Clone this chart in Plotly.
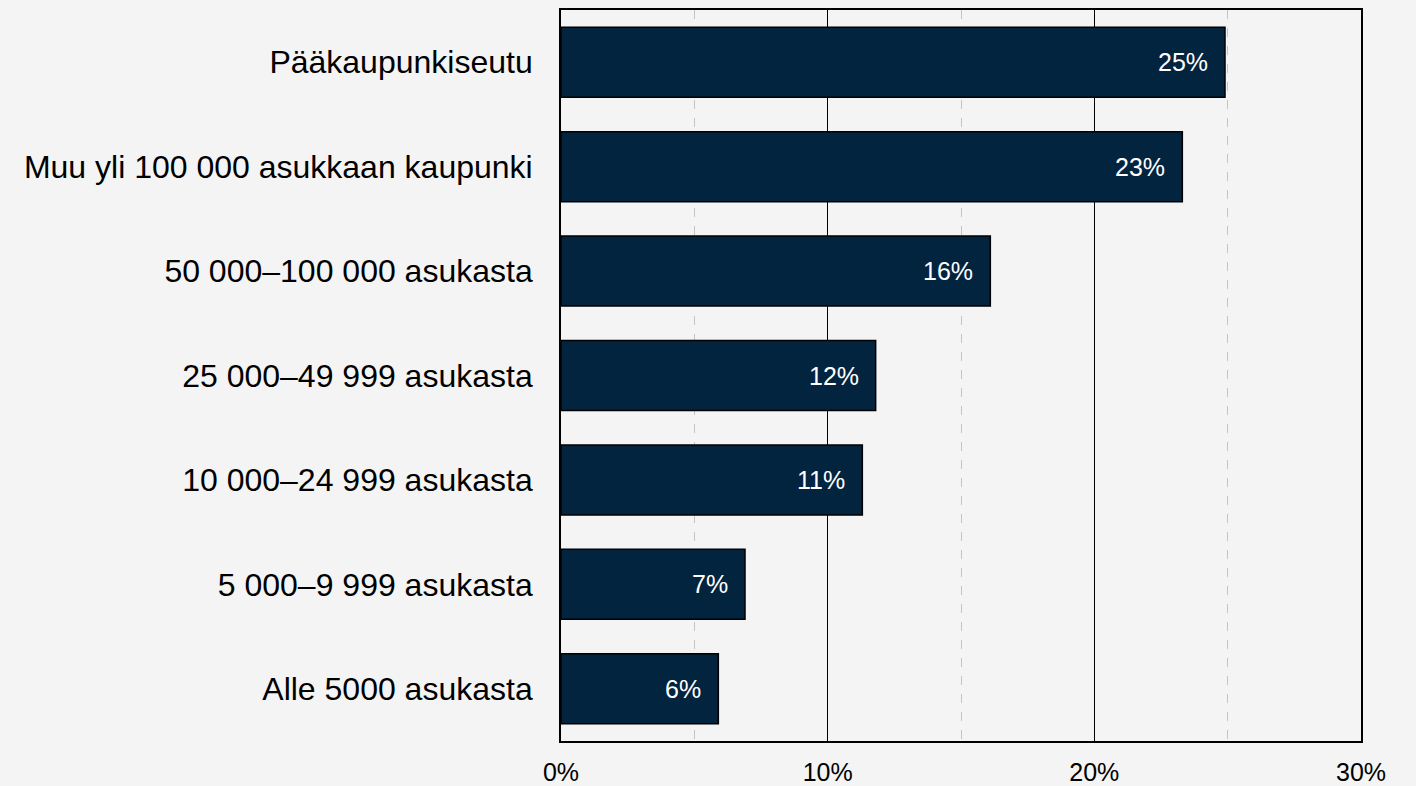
import plotly.graph_objects as go

# ── data ──────────────────────────────────────────────────────────────────────
categories = [
    "Pääkaupunkiseutu",
    "Muu yli 100 000 asukkaan kaupunki",
    "50 000–100 000 asukasta",
    "25 000–49 999 asukasta",
    "10 000–24 999 asukasta",
    "5 000–9 999 asukasta",
    "Alle 5000 asukasta",
]
shares = [24.9, 23.3, 16.1, 11.8, 11.3, 6.9, 5.9]
labels = ["25%", "23%", "16%", "12%", "11%", "7%", "6%"]
x_ticks = [0, 10, 20, 30]
x_tick_text = ["0%", "10%", "20%", "30%"]

# ── style ─────────────────────────────────────────────────────────────────────
BG = "#f4f4f4"
BAR = "#02243f"
FONT = "Liberation Sans, Arial, sans-serif"

fig = go.Figure(go.Bar(
    x=shares,
    y=categories,
    orientation="h",
    marker=dict(color=BAR, line=dict(color="black", width=1.5)),
    hoverinfo="skip",
))

# value labels inside bar ends
for cat, val, lab in zip(categories, shares, labels):
    fig.add_annotation(
        x=val, y=cat, text=lab, showarrow=False,
        xanchor="right", xshift=-15,
        font=dict(color="white", size=25, family=FONT),
    )

fig.update_layout(
    width=1416, height=786,
    paper_bgcolor=BG, plot_bgcolor=BG,
    font=dict(family=FONT, size=32, color="black"),
    margin=dict(l=561, r=55, t=10, b=45),
    bargap=0.33,
    showlegend=False,
)
fig.update_xaxes(
    range=[0, 30], tickvals=x_ticks, ticktext=x_tick_text,
    showgrid=True, gridcolor="black", gridwidth=1.2,
    minor=dict(dtick=5, tick0=0, showgrid=True, gridcolor="#c4c4c4",
               griddash="dash", gridwidth=1.2),
    showline=True, linecolor="black", linewidth=1.8, mirror=True,
    zeroline=False, ticks="outside", ticklen=8, tickcolor="rgba(0,0,0,0)",
    tickfont=dict(size=25), automargin=False,
)
fig.update_yaxes(
    autorange="reversed",
    showline=True, linecolor="black", linewidth=1.8, mirror=True,
    ticks="outside", ticklen=20, tickcolor="rgba(0,0,0,0)",
    showgrid=False, automargin=False,
)

fig.write_html("out.html", config={"displayModeBar": False},
               post_script="document.body.style.margin='0px';")
